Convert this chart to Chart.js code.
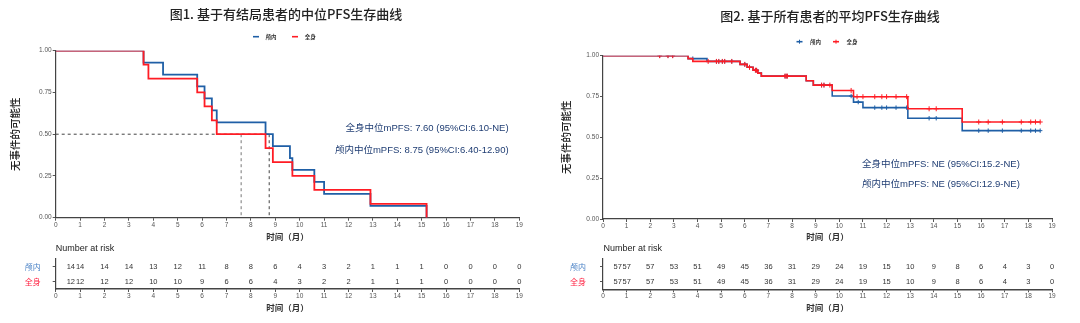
<!DOCTYPE html>
<html>
<head>
<meta charset="utf-8">
<script src="https://cdn.jsdelivr.net/npm/chart.js@4/dist/chart.umd.min.js"></script>
<style>
  html, body { margin: 0; padding: 0; background: #fff; }
  #wrap { position: relative; width: 1080px; height: 323px; overflow: hidden; background: #fff; }
  #wrap canvas { position: absolute; }
</style>
</head>
<body>
<div id="wrap">
  <canvas id="km1" width="540" height="250" style="left:0;top:0;width:540px;height:250px"></canvas>
  <canvas id="risk1" width="540" height="83" style="left:0;top:240px;width:540px;height:83px"></canvas>
  <canvas id="km2" width="540" height="250" style="left:540px;top:0;width:540px;height:250px"></canvas>
  <canvas id="risk2" width="540" height="83" style="left:540px;top:240px;width:540px;height:83px"></canvas>
</div>
<script>
// ---------- Figure 1: patients with an observed outcome ----------
const fig1IntraTimes = [0, 3.6, 4.4, 5.8, 6.1, 6.4, 6.6, 8.6, 8.9, 9.6, 9.7, 10.6, 11.0, 12.9, 15.2];
const fig1IntraSurv  = [1, 0.929, 0.857, 0.786, 0.714, 0.643, 0.571, 0.5, 0.429, 0.357, 0.286, 0.214, 0.143, 0.071, 0];
const fig1WholeTimes = [0, 3.6, 3.8, 5.8, 6.1, 6.4, 6.6, 8.6, 8.9, 9.7, 10.6, 12.9, 15.2];
const fig1WholeSurv  = [1, 0.917, 0.833, 0.75, 0.667, 0.583, 0.5, 0.417, 0.333, 0.25, 0.167, 0.083, 0];
const fig1MedianWhole = 7.60;
const fig1MedianIntra = 8.75;

// ---------- Figure 2: all patients ----------
const fig2IntraTimes = [0, 3.6, 4.4, 5.8, 6.1, 6.35, 6.55, 6.7, 8.6, 8.9, 9.7, 10.6, 11.0, 12.9, 15.2, 18.5];
const fig2IntraSurv  = [1, 0.982, 0.965, 0.947, 0.929, 0.911, 0.893, 0.875, 0.847, 0.820, 0.753, 0.716, 0.682, 0.617, 0.541, 0.541];
const fig2WholeTimes = [0, 3.6, 3.8, 5.8, 6.1, 6.35, 6.55, 6.7, 8.6, 8.9, 9.7, 10.6, 12.9, 15.2, 18.5];
const fig2WholeSurv  = [1, 0.982, 0.965, 0.947, 0.929, 0.911, 0.893, 0.875, 0.847, 0.820, 0.787, 0.749, 0.675, 0.594, 0.594];
const fig2IntraCensored = [2.4, 2.75, 2.95, 3.8, 4.8, 4.9, 5.05, 5.15, 5.45, 6.0, 6.2, 6.45, 6.5, 7.7, 7.75, 7.8, 9.25, 9.35,
                           10.5, 10.8, 11.5, 11.8, 12.0, 12.4, 12.85, 13.8, 14.1, 15.9, 16.3, 16.9, 17.7, 18.1, 18.3, 18.5];
const fig2WholeCensored = [2.4, 2.75, 2.95, 4.45, 4.8, 4.9, 5.05, 5.15, 5.45, 6.0, 6.2, 6.45, 6.5, 7.7, 7.75, 7.8, 9.25, 9.35, 9.6,
                           10.5, 10.75, 11.0, 11.5, 11.8, 12.0, 12.4, 12.85, 13.8, 14.1, 15.9, 16.3, 16.9, 17.7, 18.1, 18.3, 18.5];

// ---------- Number at risk ----------
const riskTimes = [0.62, 1, 2, 3, 4, 5, 6, 7, 8, 9, 10, 11, 12, 13, 14, 15, 16, 17, 18, 19];
const risk1Intra = [14, 14, 14, 14, 13, 12, 11, 8, 8, 6, 4, 3, 2, 1, 1, 1, 0, 0, 0, 0];
const risk1Whole = [12, 12, 12, 12, 10, 10, 9, 6, 6, 4, 3, 2, 2, 1, 1, 1, 0, 0, 0, 0];
const risk2Intra = [57, 57, 57, 53, 51, 49, 45, 36, 31, 29, 24, 19, 15, 10, 9, 8, 6, 4, 3, 0];
const risk2Whole = [57, 57, 57, 53, 51, 49, 45, 36, 31, 29, 24, 19, 15, 10, 9, 8, 6, 4, 3, 0];

const groupNames = ['颅内', '全身'];
const xTicksMax = 19;
const yTickValues = [0, 0.25, 0.5, 0.75, 1];

// ---------- styling ----------
const BLUE = '#1f5fa6';
const RED = '#ff1c24';
const NOTE = '#1f3d73';
const SANS = "'Liberation Sans', 'Noto Sans CJK SC', sans-serif";
const CJK = "'Noto Sans CJK SC', 'Liberation Sans', sans-serif";
Chart.defaults.font.family = SANS;
Chart.defaults.color = '#444';

const tickFont = { family: SANS, size: 6.5 };
const axisTitleFont = { family: CJK, size: 8.5, weight: 'bold' };

const curve = (times, surv) => times.map((t, i) => ({ x: t, y: surv[i] }));
const stepValue = (times, surv, t) => {
  let v = surv[0];
  for (let i = 0; i < times.length; i++) if (times[i] <= t) v = surv[i];
  return v;
};
const censorMarks = (times, surv, cens) => cens.map(t => ({ x: t, y: stepValue(times, surv, t) }));

// Free-positioned text, keys and notes drawn onto each chart
const decor = {
  id: 'decor',
  afterDraw(chart, args, opts) {
    const ctx = chart.ctx;
    ctx.save();
    ctx.textBaseline = 'middle';
    (opts.texts || []).forEach(t => {
      ctx.font = t.font;
      ctx.fillStyle = t.color;
      ctx.textAlign = t.align || 'left';
      ctx.fillText(t.text, t.x, t.y);
    });
    (opts.keys || []).forEach(k => {
      ctx.strokeStyle = k.color;
      ctx.lineWidth = 1.6;
      ctx.beginPath();
      ctx.moveTo(k.x, k.y);
      ctx.lineTo(k.x + k.len, k.y);
      ctx.stroke();
      if (k.cross) {
        ctx.lineWidth = 1;
        const cx = k.x + k.len / 2;
        ctx.beginPath();
        ctx.moveTo(cx, k.y - 2); ctx.lineTo(cx, k.y + 2);
        ctx.stroke();
      }
      ctx.font = "bold 5.5px " + CJK;
      ctx.fillStyle = '#333';
      ctx.textAlign = 'left';
      ctx.fillText(k.label, k.tx, k.y);
    });
    ctx.restore();
  }
};

// Numbers of the risk table, placed at the invisible points of each row
const riskNumbers = {
  id: 'riskNumbers',
  afterDatasetsDraw(chart, args, opts) {
    const ctx = chart.ctx;
    ctx.save();
    ctx.font = opts.font;
    ctx.fillStyle = opts.color;
    ctx.textAlign = 'center';
    ctx.textBaseline = 'middle';
    chart.data.datasets.forEach((ds, di) => {
      const meta = chart.getDatasetMeta(di);
      meta.data.forEach((pt, i) => ctx.fillText(String(ds.counts[i]), pt.x, pt.y));
    });
    ctx.restore();
  }
};

function kmChart(id, p) {
  return new Chart(document.getElementById(id), {
    type: 'scatter',
    data: { datasets: p.datasets },
    options: {
      responsive: false,
      animation: false,
      events: [],
      layout: { padding: { top: p.top, right: p.right, left: 0, bottom: 0 } },
      plugins: { legend: { display: false }, tooltip: { enabled: false }, decor: p.decor },
      scales: {
        x: {
          type: 'linear', min: 0, max: xTicksMax,
          afterFit: s => { s.height = p.xh; },
          ticks: { stepSize: 1, font: tickFont, color: '#555', padding: 0.5, maxRotation: 0, autoSkip: false },
          grid: { display: true, drawOnChartArea: false, tickLength: 3, color: '#555' },
          border: { display: true, color: '#444', width: 1.2 },
          title: { display: true, text: '时间（月）', font: axisTitleFont, color: '#333', padding: { top: 0, bottom: p.xtb } }
        },
        y: {
          type: 'linear', min: 0, max: 1,
          afterFit: s => { s.width = p.yw; },
          afterBuildTicks: s => { s.ticks = yTickValues.map(v => ({ value: v })); },
          ticks: { font: tickFont, color: '#555', padding: 1, callback: v => Number(v).toFixed(2) },
          grid: { display: true, drawOnChartArea: false, tickLength: 3, color: '#555' },
          border: { display: true, color: '#444', width: 1.2 },
          title: { display: true, text: '无事件的可能性', font: { family: CJK, size: 10.5, weight: 500 }, color: '#222', padding: { top: p.ytt, bottom: 0 } }
        }
      }
    },
    plugins: [decor]
  });
}

function riskChart(id, p) {
  const rowDataset = (counts, r) => ({
    data: riskTimes.map(t => ({ x: t, y: groupNames[r] })),
    counts,
    pointRadius: 0,
    showLine: false
  });
  return new Chart(document.getElementById(id), {
    type: 'scatter',
    data: { datasets: p.rows.map(rowDataset) },
    options: {
      responsive: false,
      animation: false,
      events: [],
      layout: { padding: { top: p.top, right: p.right, left: 0, bottom: 0 } },
      plugins: {
        legend: { display: false }, tooltip: { enabled: false },
        riskNumbers: { font: "7.5px " + SANS, color: '#333' },
        decor: p.decor
      },
      scales: {
        x: {
          type: 'linear', min: 0, max: xTicksMax,
          afterFit: s => { s.height = p.xh; },
          ticks: { stepSize: 1, font: tickFont, color: '#555', padding: 0.5, maxRotation: 0, autoSkip: false },
          grid: { display: true, drawOnChartArea: false, tickLength: 3, color: '#555' },
          border: { display: true, color: '#444', width: 1.4 },
          title: { display: true, text: '时间（月）', font: axisTitleFont, color: '#333', padding: { top: 0, bottom: p.xtb } }
        },
        y: {
          type: 'category', labels: groupNames, offset: true,
          afterFit: s => { s.width = p.yw; },
          ticks: { font: { family: CJK, size: 8 }, padding: p.labelPad, color: c => [ '#4a82c6', '#ff2040' ][c.index] },
          grid: { display: true, drawOnChartArea: false, tickLength: 3, color: '#555' },
          border: { display: true, color: '#444', width: 1.2 }
        }
      }
    },
    plugins: [riskNumbers, decor]
  });
}

// ---------- Figure 1 ----------
kmChart('km1', {
  top: 50.7, right: 20.7, yw: 55.7, xh: 32.3, xtb: 8.4, ytt: 9.1,
  datasets: [
    { data: [{ x: 0, y: 0.5 }, { x: fig1MedianIntra, y: 0.5 }], showLine: true, pointRadius: 0, borderColor: '#444', borderWidth: 1, borderDash: [3, 3], order: 10 },
    { data: [{ x: fig1MedianWhole, y: 0.5 }, { x: fig1MedianWhole, y: 0 }], showLine: true, pointRadius: 0, borderColor: '#777', borderWidth: 1, borderDash: [3, 3], order: 10 },
    { data: [{ x: fig1MedianIntra, y: 0.5 }, { x: fig1MedianIntra, y: 0 }], showLine: true, pointRadius: 0, borderColor: '#444', borderWidth: 1, borderDash: [3, 3], order: 10 },
    { label: '颅内', data: curve(fig1IntraTimes, fig1IntraSurv), showLine: true, stepped: true, pointRadius: 0, borderColor: BLUE, borderWidth: 1.8, order: 2 },
    { label: '全身', data: curve(fig1WholeTimes, fig1WholeSurv), showLine: true, stepped: true, pointRadius: 0, borderColor: RED, borderWidth: 1.8, order: 1 }
  ],
  decor: {
    texts: [
      { text: '图1. 基于有结局患者的中位PFS生存曲线', x: 286, y: 14, font: "500 13px " + CJK, color: '#222', align: 'center' },
      { text: '全身中位mPFS: 7.60 (95%CI:6.10-NE)', x: 508.6, y: 128.7, font: "9.5px " + SANS, color: NOTE, align: 'right' },
      { text: '颅内中位mPFS: 8.75 (95%CI:6.40-12.90)', x: 508.6, y: 150, font: "9.5px " + SANS, color: NOTE, align: 'right' }
    ],
    keys: [
      { label: '颅内', color: BLUE, x: 253, len: 6, tx: 265.4, y: 36.7 },
      { label: '全身', color: RED, x: 292, len: 6, tx: 304.8, y: 36.7 }
    ]
  }
});

riskChart('risk1', {
  top: 19, right: 20.7, yw: 55.7, xh: 34, xtb: 10.6, labelPad: 12,
  rows: [risk1Intra, risk1Whole],
  decor: { texts: [{ text: 'Number at risk', x: 55.7, y: 8.3, font: "9px " + SANS, color: '#222' }] }
});

// ---------- Figure 2 ----------
kmChart('km2', {
  top: 55.7, right: 28, yw: 63, xh: 31, xtb: 7.9, ytt: 19.4,
  datasets: [
    { label: '颅内', data: curve(fig2IntraTimes, fig2IntraSurv), showLine: true, stepped: true, pointRadius: 0, borderColor: BLUE, borderWidth: 1.6, order: 4 },
    { data: censorMarks(fig2IntraTimes, fig2IntraSurv, fig2IntraCensored), pointStyle: 'cross', pointRadius: 2.2, borderColor: BLUE, borderWidth: 1, order: 3 },
    { label: '全身', data: curve(fig2WholeTimes, fig2WholeSurv), showLine: true, stepped: true, pointRadius: 0, borderColor: RED, borderWidth: 1.6, order: 2 },
    { data: censorMarks(fig2WholeTimes, fig2WholeSurv, fig2WholeCensored), pointStyle: 'cross', pointRadius: 2.5, borderColor: RED, borderWidth: 1, order: 1 }
  ],
  decor: {
    texts: [
      { text: '图2. 基于所有患者的平均PFS生存曲线', x: 290, y: 15.7, font: "500 13px " + CJK, color: '#222', align: 'center' },
      { text: '全身中位mPFS: NE (95%CI:15.2-NE)', x: 322, y: 164, font: "9.5px " + SANS, color: NOTE, align: 'left' },
      { text: '颅内中位mPFS: NE (95%CI:12.9-NE)', x: 322, y: 184.3, font: "9.5px " + SANS, color: NOTE, align: 'left' }
    ],
    keys: [
      { label: '颅内', color: BLUE, x: 256.5, len: 6, tx: 270, y: 41.7, cross: true },
      { label: '全身', color: RED, x: 293, len: 6, tx: 306.5, y: 41.7, cross: true }
    ]
  }
});

riskChart('risk2', {
  top: 19, right: 28, yw: 63, xh: 33.7, xtb: 10.6, labelPad: 14,
  rows: [risk2Intra, risk2Whole],
  decor: { texts: [{ text: 'Number at risk', x: 63.4, y: 8.3, font: "9px " + SANS, color: '#222' }] }
});
</script>
</body>
</html>
